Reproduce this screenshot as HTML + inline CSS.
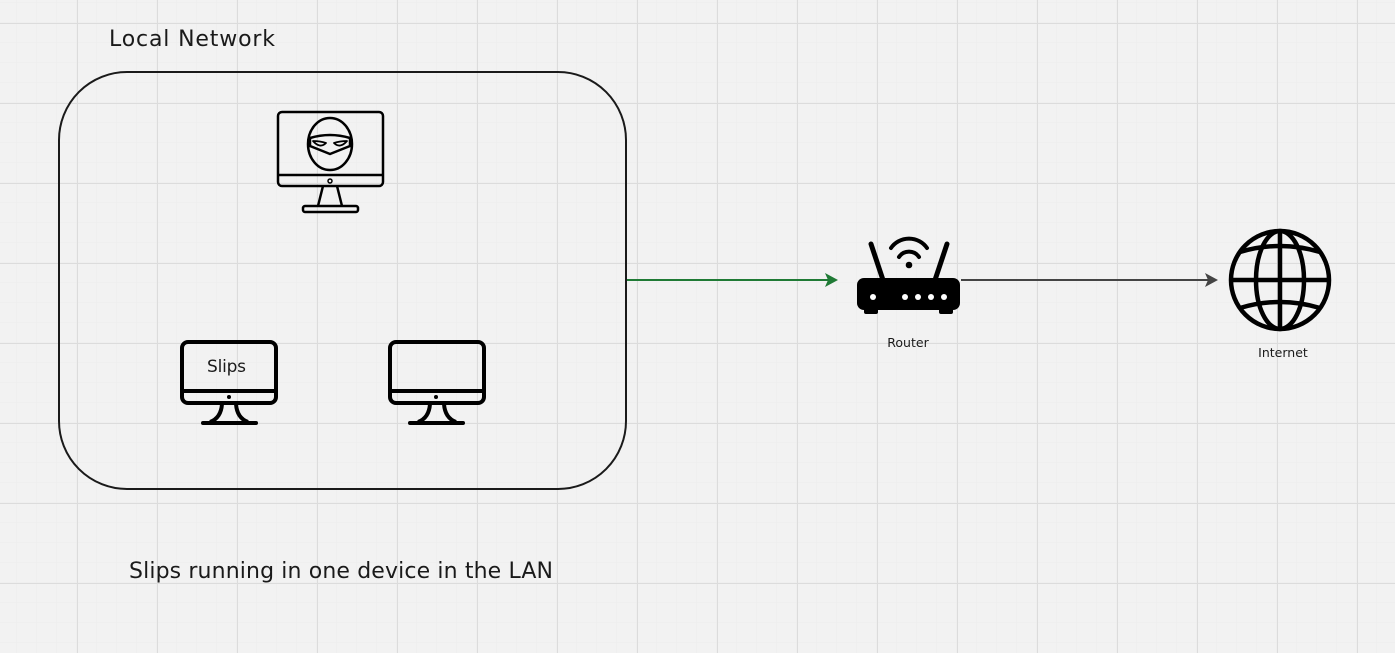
<!DOCTYPE html>
<html><head><meta charset="utf-8"><style>
html,body{margin:0;padding:0;background:#f2f2f2;}
svg{display:block}
text{font-family:"DejaVu Sans","Liberation Sans",sans-serif;fill:#1a1a1a}
</style></head><body>
<svg width="1395" height="653" viewBox="0 0 1395 653" xmlns="http://www.w3.org/2000/svg">
<defs>
<pattern id="minor" x="-3" y="3" width="20" height="20" patternUnits="userSpaceOnUse">
<path d="M20 0V20M0 20H20" stroke="#ececec" stroke-width="1" fill="none"/>
</pattern>
<pattern id="major" x="-3" y="23" width="80" height="80" patternUnits="userSpaceOnUse">
<path d="M0.5 0V80M0 0.5H80" stroke="#dcdcdc" stroke-width="1" fill="none"/>
</pattern>
</defs>
<rect width="1395" height="653" fill="#f2f2f2"/>
<rect width="1395" height="653" fill="url(#minor)"/>
<rect width="1395" height="653" fill="url(#major)"/>

<text x="109" y="46" font-size="22" textLength="166">Local Network</text>
<rect x="59" y="72" width="567" height="417" rx="68" fill="none" stroke="#1a1a1a" stroke-width="2"/>

<g fill="none" stroke="#000" stroke-width="2.5" stroke-linejoin="round">
<rect x="278" y="112" width="105" height="74" rx="4"/>
<line x1="278" y1="175" x2="383" y2="175"/>
<path d="M323 186 L318 206 M337 186 L342 206"/>
<rect x="303" y="206" width="55" height="6" rx="2"/>
<ellipse cx="330" cy="144" rx="22" ry="26"/>
<path d="M310 138 Q330 132 350 138 L350 146 Q340 150 330 154 Q320 150 310 146 Z"/>
<path d="M313 141 Q320 141 326 143 Q320 149 313 141 Z M347 141 Q340 141 334 143 Q340 149 347 141 Z" stroke-width="1.8"/>
<circle cx="330" cy="181" r="2" stroke-width="1.5"/>
</g>

<g fill="none" stroke="#000" stroke-width="4" stroke-linejoin="round">
<rect x="182" y="342" width="94" height="61" rx="6"/>
<line x1="182" y1="391" x2="276" y2="391"/>
<path d="M222 404 Q221 418 210 422 M236 404 Q237 418 248 422"/>
<line x1="203" y1="423" x2="256" y2="423" stroke-linecap="round"/>
<rect x="390" y="342" width="94" height="61" rx="6"/>
<line x1="390" y1="391" x2="484" y2="391"/>
<path d="M430 404 Q429 418 418 422 M444 404 Q445 418 456 422"/>
<line x1="410" y1="423" x2="463" y2="423" stroke-linecap="round"/>
</g>
<circle cx="229" cy="397" r="2" fill="#000"/>
<circle cx="436" cy="397" r="2" fill="#000"/>
<text x="207" y="372" font-size="17" textLength="39">Slips</text>

<line x1="627" y1="280" x2="828" y2="280" stroke="#1f7a35" stroke-width="2"/>
<path d="M838 280 L825 273 L828 280 L825 287 Z" fill="#1f7a35"/>

<g>
<path d="M871 244 L884 283 M947 244 L934 283" stroke="#000" stroke-width="5" stroke-linecap="round"/>
<rect x="857" y="278" width="103" height="32" rx="7" fill="#000"/>
<rect x="864" y="306" width="14" height="8" rx="2" fill="#000"/>
<rect x="939" y="306" width="14" height="8" rx="2" fill="#000"/>
<circle cx="873" cy="297" r="3" fill="#fff"/>
<circle cx="905" cy="297" r="3" fill="#fff"/>
<circle cx="918" cy="297" r="3" fill="#fff"/>
<circle cx="931" cy="297" r="3" fill="#fff"/>
<circle cx="944" cy="297" r="3" fill="#fff"/>
<path d="M891 248 A22 22 0 0 1 927 248" fill="none" stroke="#000" stroke-width="4" stroke-linecap="round"/>
<path d="M899 257 A12 12 0 0 1 919 257" fill="none" stroke="#000" stroke-width="4" stroke-linecap="round"/>
<circle cx="909" cy="265" r="3.3" fill="#000"/>
</g>
<text x="908" y="347" font-size="12.5" text-anchor="middle">Router</text>

<line x1="961" y1="280" x2="1208" y2="280" stroke="#444" stroke-width="2"/>
<path d="M1218 280 L1205 273 L1208 280 L1205 287 Z" fill="#444"/>

<g fill="none" stroke="#000" stroke-width="4.5">
<circle cx="1280" cy="280" r="49"/>
<ellipse cx="1280" cy="280" rx="24" ry="49"/>
<line x1="1280" y1="231" x2="1280" y2="329"/>
<line x1="1231" y1="280" x2="1329" y2="280"/>
<path d="M1240 252 Q1280 240 1320 252"/>
<path d="M1240 308 Q1280 296 1320 308"/>
</g>
<text x="1283" y="357" font-size="12.5" text-anchor="middle">Internet</text>

<text x="129" y="578" font-size="22" textLength="424">Slips running in one device in the LAN</text>
</svg>
</body></html>
